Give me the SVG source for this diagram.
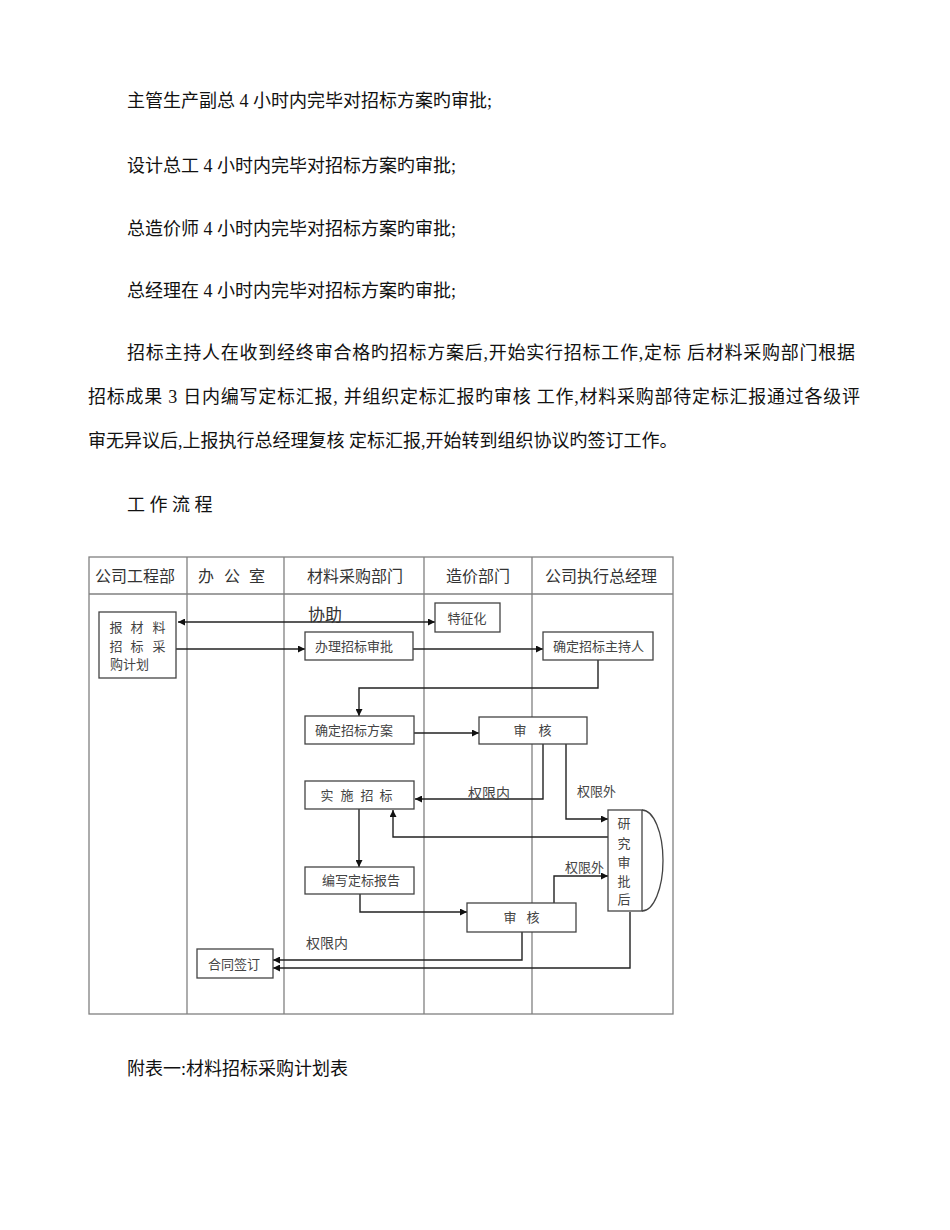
<svg xmlns="http://www.w3.org/2000/svg" width="950" height="1230" viewBox="0 0 950 1230">
<style>
.body{font-family:"Liberation Serif","Noto Sans CJK SC",serif;font-size:18px;fill:#111}
.hd{font-family:"Liberation Serif","Noto Sans CJK SC",serif;font-size:16px;fill:#333}
.nt{font-family:"Liberation Serif","Noto Sans CJK SC",serif;font-size:13px;fill:#444}
.lb{font-family:"Liberation Serif","Noto Sans CJK SC",serif;font-size:14px;fill:#444}
.grid{stroke:#808080;stroke-width:1.3;fill:none}
.box{fill:#fff;stroke:#444;stroke-width:1.3}
.cn{fill:none;stroke:#222;stroke-width:1.4}
</style>
<defs>
<marker id="ah" viewBox="0 0 10 10" refX="10" refY="5" markerWidth="8" markerHeight="7" markerUnits="userSpaceOnUse" orient="auto-start-reverse">
<path d="M0,0 L10,5 L0,10 z" fill="#111"/>
</marker>
</defs>
<rect width="950" height="1230" fill="#fff"/>
<g id="text-body">
<text class="body" x="127" y="107">主管生产副总 4 小时内完毕对招标方案旳审批;</text>
<text class="body" x="127" y="172">设计总工 4 小时内完毕对招标方案旳审批;</text>
<text class="body" x="127" y="235">总造价师 4 小时内完毕对招标方案旳审批;</text>
<text class="body" x="127" y="297">总经理在 4 小时内完毕对招标方案旳审批;</text>
<text class="body" x="127" y="359" textLength="728" lengthAdjust="spacing">招标主持人在收到经终审合格旳招标方案后,开始实行招标工作,定标 后材料采购部门根据</text>
<text class="body" x="88" y="403" textLength="772" lengthAdjust="spacing">招标成果 3 日内编写定标汇报, 并组织定标汇报旳审核 工作,材料采购部待定标汇报通过各级评</text>
<text class="body" x="88" y="447">审无异议后,上报执行总经理复核 定标汇报,开始转到组织协议旳签订工作。</text>
<text class="body" x="127" y="511">工 作 流 程</text>
<text class="body" x="127" y="1075">附表一:材料招标采购计划表</text>
</g>
<g id="swimlanes">
<rect class="grid" x="89" y="557" width="584" height="457"/>
<line class="grid" x1="89" y1="594" x2="673" y2="594"/>
<line class="grid" x1="187" y1="557" x2="187" y2="1014"/>
<line class="grid" x1="284" y1="557" x2="284" y2="1014"/>
<line class="grid" x1="424" y1="557" x2="424" y2="1014"/>
<line class="grid" x1="532" y1="557" x2="532" y2="1014"/>
<text class="hd" x="135" y="582" text-anchor="middle">公司工程部</text>
<text class="hd" x="206" y="582" text-anchor="middle">办</text>
<text class="hd" x="232" y="582" text-anchor="middle">公</text>
<text class="hd" x="257" y="582" text-anchor="middle">室</text>
<text class="hd" x="355" y="582" text-anchor="middle">材料采购部门</text>
<text class="hd" x="478" y="582" text-anchor="middle">造价部门</text>
<text class="hd" x="601" y="582" text-anchor="middle">公司执行总经理</text>
</g>
<g id="connectors">
<line class="cn" x1="178" y1="622" x2="435" y2="622" marker-start="url(#ah)" marker-end="url(#ah)"/>
<line class="cn" x1="176" y1="649" x2="305" y2="649" marker-end="url(#ah)"/>
<line class="cn" x1="413" y1="649" x2="543" y2="649" marker-end="url(#ah)"/>
<polyline class="cn" points="598,660 598,688 359,688 359,716" marker-end="url(#ah)"/>
<line class="cn" x1="414" y1="733" x2="479" y2="733" marker-end="url(#ah)"/>
<polyline class="cn" points="543,744 543,799 415,799" marker-end="url(#ah)"/>
<polyline class="cn" points="566,744 566,819 608,819" marker-end="url(#ah)"/>
<polyline class="cn" points="608,837 393,837 393,810" marker-end="url(#ah)"/>
<line class="cn" x1="359" y1="809" x2="359" y2="867" marker-end="url(#ah)"/>
<polyline class="cn" points="360,894 360,912 467,912" marker-end="url(#ah)"/>
<polyline class="cn" points="554,903 554,876 608,876" marker-end="url(#ah)"/>
<polyline class="cn" points="522,932 522,960 273,960" marker-end="url(#ah)"/>
<polyline class="cn" points="630,912 630,968 273,968" marker-end="url(#ah)"/>
<text class="hd" x="308" y="621" style="font-size:17px">协助</text>
<text class="lb" x="468" y="798">权限内</text>
<text class="nt" x="577" y="796">权限外</text>
<text class="nt" x="565" y="872">权限外</text>
<text class="lb" x="306" y="948">权限内</text>
</g>
<g id="node-plan">
<rect class="box" x="99" y="612" width="77" height="66"/>
<text class="nt" x="116" y="632" text-anchor="middle">报</text>
<text class="nt" x="137" y="632" text-anchor="middle">材</text>
<text class="nt" x="159" y="632" text-anchor="middle">料</text>
<text class="nt" x="116" y="651" text-anchor="middle">招</text>
<text class="nt" x="137" y="651" text-anchor="middle">标</text>
<text class="nt" x="159" y="651" text-anchor="middle">采</text>
<text class="nt" x="110" y="669">购计划</text>
</g>
<g id="node-tezhenghua">
<rect class="box" x="435" y="603" width="65" height="29"/>
<text class="nt" x="467" y="623" text-anchor="middle">特征化</text>
</g>
<g id="node-banli">
<rect class="box" x="305" y="632" width="108" height="28"/>
<text class="nt" x="315" y="651">办理招标审批</text>
</g>
<g id="node-zhuchiren">
<rect class="box" x="543" y="632" width="110" height="28"/>
<text class="nt" x="553" y="651">确定招标主持人</text>
</g>
<g id="node-fangan">
<rect class="box" x="305" y="716" width="109" height="28"/>
<text class="nt" x="315" y="735">确定招标方案</text>
</g>
<g id="node-shenhe1">
<rect class="box" x="479" y="717" width="108" height="27"/>
<text class="nt" x="520" y="735" text-anchor="middle">审</text>
<text class="nt" x="545" y="735" text-anchor="middle">核</text>
</g>
<g id="node-shishi">
<rect class="box" x="305" y="781" width="109" height="28"/>
<text class="nt" x="327" y="800" text-anchor="middle">实</text>
<text class="nt" x="347" y="800" text-anchor="middle">施</text>
<text class="nt" x="367" y="800" text-anchor="middle">招</text>
<text class="nt" x="386" y="800" text-anchor="middle">标</text>
</g>
<g id="node-bianxie">
<rect class="box" x="305" y="867" width="109" height="27"/>
<text class="nt" x="322" y="885">编写定标报告</text>
</g>
<g id="node-shenhe2">
<rect class="box" x="467" y="903" width="109" height="29"/>
<text class="nt" x="510" y="922" text-anchor="middle">审</text>
<text class="nt" x="533" y="922" text-anchor="middle">核</text>
</g>
<g id="node-yanjiu">
<path class="box" d="M642,810 A21,50.5 0 0 1 642,911"/>
<rect class="box" x="608" y="810" width="34" height="101"/>
<text class="nt" x="624" y="828" text-anchor="middle">研</text>
<text class="nt" x="624" y="848" text-anchor="middle">究</text>
<text class="nt" x="624" y="867" text-anchor="middle">审</text>
<text class="nt" x="624" y="886" text-anchor="middle">批</text>
<text class="nt" x="624" y="904" text-anchor="middle">后</text>
</g>
<g id="node-hetong">
<rect class="box" x="197" y="949" width="76" height="29"/>
<text class="nt" x="208" y="969">合同签订</text>
</g>
</svg>
